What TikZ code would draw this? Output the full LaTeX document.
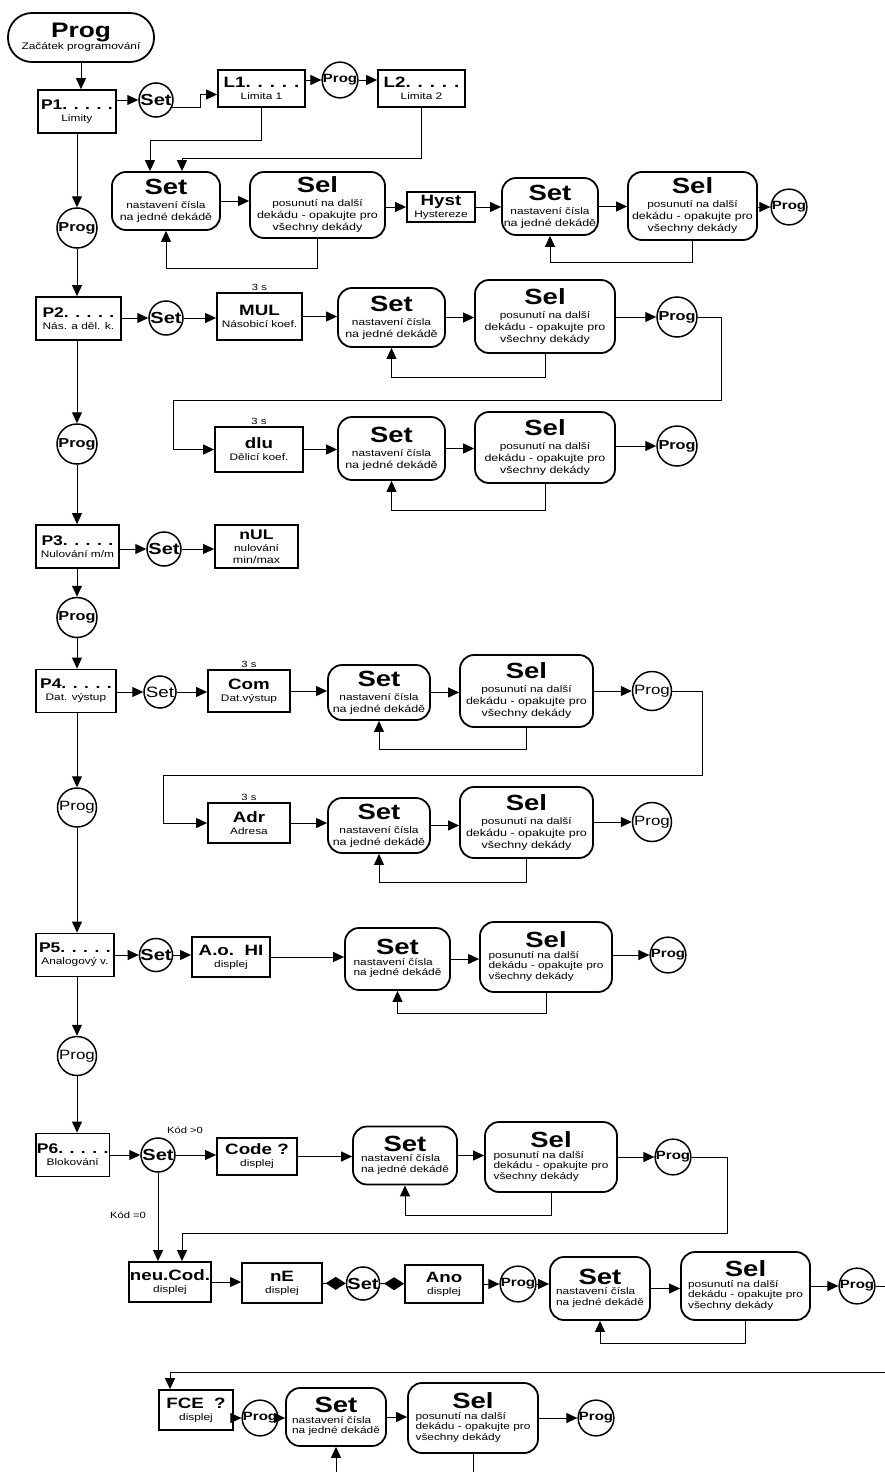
\documentclass[tikz,border=0pt]{standalone}
\usepackage{fontspec}
\setmainfont{Liberation Sans}[FakeStretch=1.25]
\usetikzlibrary{arrows.meta,positioning}

\newcommand\ttlfont{\fontsize{22}{22}\selectfont\bfseries}
\newcommand\keyfont{\fontsize{15}{16}\selectfont\bfseries}
\newcommand\pfont{\fontsize{14}{15}\selectfont\bfseries}
\newcommand\subfont{\fontsize{9.5}{10.5}\selectfont}
\newcommand\setTxtC{{\ttlfont Set}\\[2pt]\subfont nastavení čísla\\na jedné dekádě}
\newcommand\selTxtC{{\ttlfont Sel}\\[2pt]\subfont posunutí na další\\dekádu - opakujte pro\\všechny dekády}
\newcommand\setTxtL{{\ttlfont Set}\\[2pt]\subfont\begin{tabular}{@{}l@{}}nastavení čísla\\na jedné dekádě\end{tabular}}
\newcommand\selTxtL{{\ttlfont Sel}\\[2pt]\subfont\begin{tabular}{@{}l@{}}posunutí na další\\dekádu - opakujte pro\\všechny dekády\end{tabular}}

\tikzset{
  arr/.style={line width=1pt,-{Triangle[length=11pt,width=10pt]}},
  dia/.style={line width=1pt,-{Diamond[length=20pt,width=13pt]}},
  keybox/.style={draw,line width=1.8pt,inner sep=1pt,align=center},
  pbox/.style={keybox,anchor=west,minimum height=43},
  decbox/.style={draw,line width=1.8pt,rounded corners=14pt,inner sep=1pt,align=center},
  startbox/.style={decbox,rounded corners=24pt},
  btn/.style={circle,draw,line width=1.5pt,inner sep=0pt,minimum size=34,font=\fontsize{16}{16}\selectfont\bfseries},
  btnr/.style={btn,minimum size=32,font=\fontsize{15}{15}\selectfont},
  prog/.style={btn,minimum size=32,font=\fontsize{12}{12}\selectfont\bfseries},
  progbig/.style={btn,minimum size=40,font=\fontsize{13}{13}\selectfont\bfseries},
  progr/.style={btn,minimum size=39,font=\fontsize{13.5}{13.5}\selectfont},
  note/.style={inner sep=1pt,font=\fontsize{9}{10}\selectfont}
}

\begin{document}
\begin{tikzpicture}[x=1pt,y=-1pt]
\useasboundingbox (0,0) rectangle (884,1472);

% Set / Sel pairs with their return loop
\foreach \nm/\sx/\sy/\sw/\sh/\lx/\ly/\lw/\lh/\dep/\stxt/\ltxt in {
  A/166/201/108/58/317.5/205/135/66/30/\setTxtC/\selTxtC,
  A2/550/206.5/96/57/692.5/206/129/68/22/\setTxtC/\selTxtC,
  B/391.5/317.5/107/59/545/316.5/140/73/24/\setTxtC/\selTxtC,
  C/391.5/448.5/107/63/545/447.5/140/71/27/\setTxtC/\selTxtC,
  D/379/692.5/102/55/526.5/691/133/72/22/\setTxtC/\selTxtC,
  E/379/825.5/102/55/526.5/822.5/133/71/24/\setTxtC/\selTxtC,
  F/397.5/959/105/62/546/957/132/70/21/\setTxtL/\selTxtL,
  G/405/1155.5/104/58/551/1157/132/70/23/\setTxtL/\selTxtL,
  H/600/1288.5/100/63/745.5/1286/129/68/23/\setTxtL/\selTxtL,
  I/336/1417/100/58/473/1418/130/70/40/\setTxtL/\selTxtL}{
  \node[decbox,minimum width=\sw,minimum height=\sh] (set\nm) at (\sx,\sy) {\stxt};
  \node[decbox,minimum width=\lw,minimum height=\lh] (sel\nm) at (\lx,\ly) {\ltxt};
  \draw[arr] (set\nm.east) -- (set\nm.east -| sel\nm.west);
  \draw[arr] (sel\nm.south) -- ++(0,\dep) -| (set\nm.south);
}

% main column
\node[startbox,minimum width=146,minimum height=49] (start) at (81,37.5) {{\fontsize{21}{21}\selectfont\bfseries Prog}\\\subfont Začátek programování};
\node[pbox,minimum width=78] (p1) at (37,111.5) {{\pfont P1. . . . .}\\\subfont Limity};
\node[progbig] (pgP1) at (77,228) {Prog};
\node[pbox,minimum width=85] (p2) at (35,318.5) {{\pfont P2. . . . .}\\\subfont Nás. a děl. k.};
\node[progbig] (pgP2) at (77,444) {Prog};
\node[pbox,minimum width=83] (p3) at (35,546.5) {{\pfont P3. . . . .}\\\subfont Nulování m/m};
\node[progbig] (pgP3) at (77,617.5) {Prog};
\node[pbox,minimum width=80] (p4) at (35,691) {{\pfont P4. . . . .}\\\subfont Dat. výstup};
\node[progr] (pgP4) at (77,807.5) {Prog};
\node[pbox,minimum width=78] (p5) at (35,955) {{\pfont P5. . . . .}\\\subfont Analogový v.};
\node[progr] (pgP5) at (77,1056) {Prog};
\node[pbox,minimum width=73] (p6) at (35,1155) {{\pfont P6. . . . .}\\\subfont Blokování};

\draw[arr] (start.south) -- (start.south |- p1.north);
\foreach \a/\b in {p1/pgP1,p2/pgP2,p3/pgP3,p4/pgP4,p5/pgP5}{
  \draw[arr] (\a.south -| \b) -- (\b);}
\foreach \a/\b in {pgP1/p2,pgP2/p3,pgP3/p4,pgP4/p5,pgP5/p6}{
  \draw[arr] (\a) -- (\a |- \b.north);}

% P1 limits
\node[btn] (s1) at (156,100) {Set};
\node[keybox,minimum width=87,minimum height=37] (l1) at (261.5,88.5) {{\keyfont L1. . . . .}\\\subfont Limita 1};
\node[prog,minimum size=35] (pg1) at (340,80) {Prog};
\node[keybox,minimum width=87,minimum height=37] (l2) at (421.5,88.5) {{\keyfont L2. . . . .}\\\subfont Limita 2};
\node[keybox,minimum width=68,minimum height=30] (hyst) at (441,207) {{\keyfont Hyst}\\\subfont Hystereze};
\node[prog] (pgA) at (789,207) {Prog};
\draw[arr] (p1.east |- s1) -- (s1);
\draw[arr] (s1.-25) -- ++(28,0) |- ([yshift=-6pt]l1.west);
\draw[arr] (l1.east |- pg1) -- (pg1);
\draw[arr] (pg1) -- (pg1 -| l2.west);
\draw[arr] (l1.south) -- ++(0,33) -| ([xshift=-16pt]setA.north);
\draw[arr] (l2.south) -- ++(0,51) -| ([xshift=16pt]setA.north);
\draw[arr] (selA.east |- hyst) -- (hyst);
\draw[arr] (hyst) -- (hyst -| setA2.west);
\draw[arr] (selA2.east |- pgA) -- (pgA);

% P2 coefficients
\node[btn] (s2) at (166,318) {Set};
\node[keybox,minimum width=85,minimum height=47] (mul) at (259.5,316.5) {{\keyfont MUL}\\\subfont Násobicí koef.};
\node[note,above=0pt of mul] (t3a) {3 s};
\node[progbig] (pgB) at (677,317) {Prog};
\node[keybox,minimum width=88,minimum height=45] (dlu) at (259,449.5) {{\keyfont dlu}\\\subfont Dělicí koef.};
\node[note,above=0pt of dlu] (t3b) {3 s};
\node[progbig] (pgC) at (677,446) {Prog};
\draw[arr] (p2.east |- s2) -- (s2);
\draw[arr] (s2) -- (s2 -| mul.west);
\draw[arr] (mul) -- (mul -| setB.west);
\draw[arr] (selB.east |- pgB) -- (pgB);
\draw[arr] (pgB.east) -- ++(24,0) |- (173,400) |- (dlu);
\draw[arr] (dlu) -- (dlu -| setC.west);
\draw[arr] (selC.east |- pgC) -- (pgC);

% P3 reset
\node[btn] (s3) at (164,549) {Set};
\node[keybox,minimum width=83,minimum height=43] (nul) at (256.5,546.5) {{\fontsize{14}{15}\selectfont\bfseries nUL}\\\subfont nulování\\min/max};
\draw[arr] (p3.east |- s3) -- (s3);
\draw[arr] (s3) -- (s3 -| nul.west);

% P4 data output
\node[btnr] (s4) at (160,692) {Set};
\node[keybox,minimum width=82,minimum height=42] (com) at (249,691) {{\keyfont Com}\\\subfont Dat.výstup};
\node[note,above=0pt of com] (t3c) {3 s};
\node[progr] (pgD) at (652,691) {Prog};
\node[keybox,minimum width=82,minimum height=40] (adr) at (249,823) {{\keyfont Adr}\\\subfont Adresa};
\node[note,above=0pt of adr] (t3d) {3 s};
\node[progr] (pgE) at (652,822) {Prog};
\draw[arr] (p4.east |- s4) -- (s4);
\draw[arr] (s4) -- (s4 -| com.west);
\draw[arr] (com) -- (com -| setD.west);
\draw[arr] (selD.east |- pgD) -- (pgD);
\draw[arr] (pgD.east) -- ++(30,0) |- (163,775) |- (adr);
\draw[arr] (adr) -- (adr -| setE.west);
\draw[arr] (selE.east |- pgE) -- (pgE);

% P5 analog output
\node[btn,minimum size=30] (s5) at (156,955) {Set};
\node[keybox,minimum width=78,minimum height=40] (aohi) at (231,957) {{\keyfont A.o.\ \ HI}\\\subfont displej};
\node[prog] (pgF) at (668,955) {Prog};
\draw[arr] (p5.east |- s5) -- (s5);
\draw[arr] (s5) -- (s5 -| aohi.west);
\draw[arr] (aohi) -- (aohi -| setF.west);
\draw[arr] (selF.east |- pgF) -- (pgF);

% P6 locking
\node[btn] (s6) at (158,1155) {Set};
\node[note] (k1) at (185,1130) {Kód >0};
\node[keybox,minimum width=80,minimum height=37] (code) at (257,1156.5) {{\keyfont Code ?}\\\subfont displej};
\node[prog] (pgG) at (673,1157) {Prog};
\node[note] (k0) at (128,1215) {Kód =0};
\node[keybox,minimum width=80,minimum height=40] (neu) at (170,1282) {{\keyfont neu.Cod.}\\\subfont displej};
\node[keybox,minimum width=80,minimum height=40] (ne) at (282,1283) {{\keyfont nE}\\\subfont displej};
\node[btn,minimum size=33] (s7) at (363,1283.5) {Set};
\node[keybox,minimum width=78,minimum height=38] (ano) at (444,1284) {{\keyfont Ano}\\\subfont displej};
\node[prog] (pgH1) at (518,1284) {Prog};
\node[prog] (pgH2) at (857,1286) {Prog};
\coordinate (rimH) at (890,1286);
\coordinate (rimI) at (890,1372);
\node[keybox,minimum width=74,minimum height=40] (fce) at (196,1410) {{\keyfont FCE\ \ ?}\\\subfont displej};
\node[prog] (pgI1) at (260,1418) {Prog};
\node[prog] (pgI2) at (596,1418) {Prog};
\draw[arr] (p6.east |- s6) -- (s6);
\draw[arr] (s6) -- (s6 -| code.west);
\draw[arr] (code) -- (code -| setG.west);
\draw[arr] (selG.east |- pgG) -- (pgG);
\draw[arr] (s6.south) -- (s6.south |- neu.north);
\draw[arr] (pgG.east) -- ++(36,0) |- (182,1233) -- ([xshift=12pt]neu.north);
\draw[arr] (neu) -- (neu -| ne.west);
\draw[dia] (ne) -- (s7);
\draw[dia] (s7) -- (ano);
\draw[arr] (ano) -- (pgH1);
\draw[arr] (pgH1) -- (pgH1 -| setH.west);
\draw[arr] (selH.east |- pgH2) -- (pgH2);
\draw[line width=1pt] (pgH2) -- (rimH);
\draw[arr] (rimI) -| ([xshift=-26pt]fce.north);
\draw[arr] (fce.east |- pgI1) -- (pgI1);
\draw[arr] (pgI1) -- (pgI1 -| setI.west);
\draw[arr] (selI.east |- pgI2) -- (pgI2);
\end{tikzpicture}
\end{document}
